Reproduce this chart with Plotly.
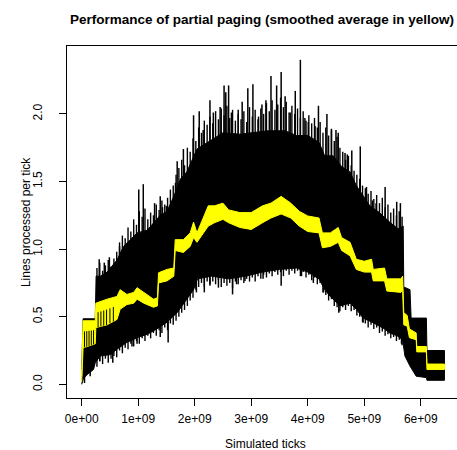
import numpy as np
import plotly.graph_objects as go

# Simulated ticks are in units of 1e9
x_tick_vals = [0, 1, 2, 3, 4, 5, 6]
x_tick_text = ["0e+00", "1e+09", "2e+09", "3e+09", "4e+09", "5e+09", "6e+09"]
y_tick_vals = [0.0, 0.5, 1.0, 1.5, 2.0]
y_tick_text = ["0.0", "0.5", "1.0", "1.5", "2.0"]

# Upper edge of the dense raw-throughput band
raw_upper_t = [0.00, 0.015, 0.025, 0.24, 0.255, 0.33, 0.45, 0.625, 0.74, 0.86,
               0.98, 1.16, 1.27, 1.39, 1.51, 1.63, 1.75, 1.86, 2.04, 2.3,
               2.5, 2.8, 3.0, 3.3, 3.6, 3.8, 4.0, 4.2, 4.3, 4.45,
               4.6, 4.75, 4.86, 4.98, 5.1, 5.27, 5.45, 5.6, 5.69, 5.70,
               5.81, 5.83, 6.10, 6.11, 6.42]
raw_upper_v = [0.10, 0.30, 0.485, 0.485, 0.80, 0.80, 0.83, 0.92, 1.02, 1.07,
               1.12, 1.14, 1.19, 1.25, 1.28, 1.39, 1.52, 1.57, 1.74, 1.81,
               1.86, 1.85, 1.86, 1.875, 1.875, 1.84, 1.84, 1.79, 1.69, 1.69,
               1.61, 1.57, 1.47, 1.39, 1.32, 1.27, 1.20, 1.15, 1.17, 0.72,
               0.70, 0.49, 0.49, 0.25, 0.25]

# Lower edge of the raw band
raw_lower_t = [0.00, 0.03, 0.09, 0.21, 0.24, 0.33, 0.51, 0.625, 0.80, 0.98,
               1.16, 1.33, 1.51, 1.69, 1.86, 1.98, 2.05, 2.3, 2.6, 2.9,
               3.2, 3.5, 3.8, 4.0, 4.2, 4.3, 4.4, 4.57, 4.75, 4.86,
               4.98, 5.16, 5.36, 5.45, 5.58, 5.68, 5.72, 5.81, 5.92, 6.10,
               6.11, 6.42]
raw_lower_v = [0.00, 0.04, 0.07, 0.11, 0.16, 0.21, 0.22, 0.26, 0.31, 0.345,
               0.37, 0.41, 0.46, 0.53, 0.63, 0.70, 0.78, 0.80, 0.78, 0.80,
               0.83, 0.85, 0.86, 0.83, 0.78, 0.70, 0.65, 0.58, 0.60, 0.555,
               0.49, 0.455, 0.41, 0.38, 0.36, 0.33, 0.21, 0.135, 0.06, 0.05,
               0.03, 0.03]

# Tall isolated peaks above the band
peak_t = [0.31, 0.40, 0.49, 0.67, 1.01, 1.09, 1.29, 1.39, 1.43, 1.50,
          1.66, 1.69, 1.80, 1.98, 2.03, 2.08, 2.15, 2.27, 2.33, 2.45,
          2.52, 2.55, 2.60, 2.65, 2.77, 2.84, 2.94, 3.03, 3.13, 3.19,
          3.26, 3.35, 3.45, 3.53, 3.60, 3.69, 3.78, 3.87, 3.95, 4.01,
          4.13, 4.19, 4.34, 4.42, 4.50, 4.54, 4.66, 4.70, 4.78, 4.93,
          5.04, 5.145, 5.21, 5.37, 5.575, 5.64]
peak_v = [0.925, 0.90, 0.94, 1.02, 1.44, 1.48, 1.34, 1.39, 1.31, 1.32,
          1.49, 1.65, 1.74, 1.99, 1.71, 2.02, 1.88, 2.10, 2.01, 2.05,
          2.21, 2.16, 2.21, 2.01, 2.03, 2.09, 2.19, 2.22, 1.98, 2.07,
          2.10, 2.28, 2.21, 2.31, 2.13, 2.01, 2.17, 2.40, 1.97, 1.94,
          1.91, 2.06, 2.00, 1.89, 1.88, 1.86, 1.71, 1.70, 1.73, 1.76,
          1.46, 1.36, 1.34, 1.46, 1.35, 1.34]

# Short ragged peaks and dips along both edges of the band
edge_t = [0.27, 0.32, 0.37, 0.42, 0.47, 0.52, 0.57, 0.62, 0.67, 0.72,
          0.77, 0.82, 0.87, 0.92, 0.97, 1.02, 1.07, 1.12, 1.17, 1.22,
          1.27, 1.32, 1.37, 1.42, 1.47, 1.52, 1.57, 1.62, 1.67, 1.72,
          1.77, 1.82, 1.87, 1.92, 1.97, 2.02, 2.07, 2.12, 2.17, 2.22,
          2.27, 2.32, 2.37, 2.42, 2.47, 2.52, 2.57, 2.62, 2.67, 2.72,
          2.77, 2.82, 2.87, 2.92, 2.97, 3.02, 3.07, 3.12, 3.17, 3.22,
          3.27, 3.32, 3.37, 3.42, 3.47, 3.52, 3.57, 3.62, 3.67, 3.72,
          3.77, 3.82, 3.87, 3.92, 3.97, 4.02, 4.07, 4.12, 4.17, 4.22,
          4.27, 4.32, 4.37, 4.42, 4.47, 4.52, 4.57, 4.62, 4.67, 4.72,
          4.77, 4.82, 4.87, 4.92, 4.97, 5.02, 5.07, 5.12, 5.17, 5.22,
          5.27, 5.32, 5.37, 5.42, 5.47, 5.52, 5.57, 5.62, 5.67]
edge_hi = [0.86, 0.90, 0.84, 0.88, 0.92, 0.87, 0.93, 0.98, 1.05, 1.10,
           1.08, 1.16, 1.13, 1.22, 1.18, 1.28, 1.24, 1.30, 1.22, 1.27,
           1.25, 1.33, 1.29, 1.36, 1.33, 1.38, 1.44, 1.47, 1.55, 1.60,
           1.66, 1.62, 1.75, 1.72, 1.82, 1.80, 1.90, 1.86, 1.95, 1.92,
           1.98, 1.93, 2.02, 1.96, 2.04, 1.99, 2.06, 1.97, 2.03, 1.95,
           2.00, 1.96, 2.02, 1.94, 2.05, 1.98, 2.03, 1.96, 2.04, 2.00,
           2.08, 2.02, 2.10, 2.03, 2.07, 2.12, 2.05, 2.09, 2.01, 2.06,
           2.00, 2.04, 1.97, 2.02, 1.95, 1.99, 1.93, 1.97, 1.90, 1.94,
           1.86, 1.90, 1.84, 1.88, 1.80, 1.83, 1.75, 1.72, 1.66, 1.69,
           1.62, 1.58, 1.55, 1.52, 1.47, 1.45, 1.41, 1.43, 1.37, 1.40,
           1.34, 1.38, 1.31, 1.33, 1.27, 1.30, 1.25, 1.28, 1.24]
edge_lo = [0.13, 0.17, 0.15, 0.19, 0.16, 0.19, 0.21, 0.20, 0.25, 0.23,
           0.27, 0.26, 0.30, 0.28, 0.32, 0.30, 0.34, 0.32, 0.36, 0.34,
           0.38, 0.36, 0.40, 0.38, 0.42, 0.40, 0.45, 0.44, 0.47, 0.50,
           0.53, 0.55, 0.58, 0.62, 0.64, 0.70, 0.72, 0.75, 0.72, 0.76,
           0.73, 0.76, 0.74, 0.77, 0.72, 0.75, 0.73, 0.75, 0.71, 0.76,
           0.74, 0.77, 0.75, 0.78, 0.76, 0.79, 0.76, 0.80, 0.78, 0.81,
           0.79, 0.82, 0.80, 0.83, 0.81, 0.83, 0.80, 0.84, 0.81, 0.84,
           0.82, 0.84, 0.80, 0.83, 0.79, 0.81, 0.77, 0.79, 0.74, 0.75,
           0.68, 0.66, 0.62, 0.63, 0.58, 0.57, 0.54, 0.57, 0.55, 0.58,
           0.54, 0.55, 0.51, 0.50, 0.46, 0.45, 0.42, 0.44, 0.41, 0.42,
           0.38, 0.39, 0.36, 0.37, 0.34, 0.35, 0.32, 0.33, 0.29]

# Tall isolated dips below the band
dip_t = [0.05, 0.15, 0.32, 0.55, 0.89, 0.98, 1.39, 1.53, 2.03, 2.17,
         2.27, 2.42, 2.67, 2.74, 2.89, 3.21, 3.53, 3.89, 4.10, 4.28,
         4.55, 4.98, 5.66]
dip_v = [0.01, 0.06, 0.17, 0.16, 0.28, 0.30, 0.35, 0.31, 0.68, 0.68,
         0.74, 0.715, 0.665, 0.74, 0.765, 0.78, 0.73, 0.80, 0.75, 0.68,
         0.53, 0.455, 0.30]

# Smoothed average (yellow), drawn as a thick band
smooth_t = [0.00, 0.01, 0.025, 0.24, 0.25, 0.45, 0.625, 0.68, 0.80, 0.92,
            0.98, 1.10, 1.27, 1.34, 1.36, 1.51, 1.63, 1.655, 1.80, 1.92,
            1.98, 2.04, 2.15, 2.24, 2.35, 2.5, 2.6, 2.8, 3.0, 3.2,
            3.35, 3.53, 3.7, 3.85, 4.0, 4.2, 4.26, 4.4, 4.54, 4.6,
            4.75, 4.86, 5.0, 5.13, 5.16, 5.36, 5.40, 5.65, 5.68, 5.70,
            5.76, 5.80, 5.92, 5.93, 6.10, 6.11, 6.42]
smooth_hi = [0.06, 0.35, 0.47, 0.47, 0.60, 0.63, 0.65, 0.70, 0.665, 0.68,
             0.715, 0.68, 0.63, 0.64, 0.825, 0.85, 0.86, 1.07, 1.07, 1.12,
             1.20, 1.12, 1.23, 1.32, 1.32, 1.34, 1.29, 1.27, 1.27, 1.32,
             1.34, 1.39, 1.34, 1.28, 1.245, 1.23, 1.12, 1.12, 1.16, 1.085,
             1.05, 0.925, 0.91, 0.925, 0.85, 0.86, 0.78, 0.78, 0.80, 0.53,
             0.51, 0.41, 0.38, 0.28, 0.28, 0.15, 0.15]
smooth_lo = [0.02, 0.04, 0.27, 0.30, 0.42, 0.44, 0.48, 0.555, 0.59, 0.60,
             0.63, 0.60, 0.57, 0.58, 0.75, 0.765, 0.80, 0.99, 0.975, 1.02,
             1.085, 1.05, 1.12, 1.17, 1.195, 1.22, 1.195, 1.16, 1.145, 1.195,
             1.23, 1.26, 1.23, 1.17, 1.13, 1.12, 1.01, 1.02, 1.05, 0.99,
             0.95, 0.85, 0.83, 0.83, 0.765, 0.765, 0.69, 0.68, 0.70, 0.44,
             0.43, 0.345, 0.33, 0.24, 0.24, 0.11, 0.11]

# Dark streaks where the early smoothed curve swings
streak_t = [0.05, 0.09, 0.13, 0.17, 0.21, 0.29, 0.34, 0.39, 0.44, 0.50, 0.56]

FONT = "Liberation Sans, Arial, Helvetica, sans-serif"

fig = go.Figure()

# raw band as a closed polygon
fig.add_trace(go.Scatter(
    x=raw_upper_t + raw_lower_t[::-1],
    y=raw_upper_v + raw_lower_v[::-1],
    fill="toself", fillcolor="black", mode="lines",
    line=dict(color="black", width=1), hoverinfo="skip", showlegend=False))


def needles(ts, vs, edge_t, edge_v, inward):
    xs, ys = [], []
    for t, v in zip(ts, vs):
        base = float(np.interp(t, edge_t, edge_v))
        xs += [t, t, None]
        ys += [base + inward, v, None]
    return xs, ys


x1, y1 = needles(peak_t, peak_v, raw_upper_t, raw_upper_v, -0.05)
x2, y2 = needles(edge_t, edge_hi, raw_upper_t, raw_upper_v, -0.05)
x3, y3 = needles(dip_t, dip_v, raw_lower_t, raw_lower_v, 0.05)
x4, y4 = needles(edge_t, edge_lo, raw_lower_t, raw_lower_v, 0.05)
fig.add_trace(go.Scatter(x=x1 + x3, y=y1 + y3, mode="lines",
                         line=dict(color="black", width=1.5),
                         hoverinfo="skip", showlegend=False))
fig.add_trace(go.Scatter(x=x2 + x4, y=y2 + y4, mode="lines",
                         line=dict(color="black", width=1.4),
                         hoverinfo="skip", showlegend=False))

# smoothed average
fig.add_trace(go.Scatter(
    x=smooth_t + smooth_t[::-1],
    y=smooth_hi + smooth_lo[::-1],
    fill="toself", fillcolor="#ffff00", mode="lines",
    line=dict(color="#ffff00", width=1), hoverinfo="skip", showlegend=False))

sx, sy = [], []
for t in streak_t:
    lo = float(np.interp(t, smooth_t, smooth_lo))
    hi = float(np.interp(t, smooth_t, smooth_hi))
    sx += [t, t, None]
    sy += [lo, lo + 0.6 * (hi - lo), None]
fig.add_trace(go.Scatter(x=sx, y=sy, mode="lines",
                         line=dict(color="black", width=1),
                         hoverinfo="skip", showlegend=False))

axis_common = dict(showgrid=False, zeroline=False, showline=True,
                   linecolor="black", linewidth=1, ticks="outside",
                   ticklen=7, tickcolor="black", tickwidth=1,
                   tickfont=dict(family=FONT, size=12, color="black"))

fig.update_layout(
    width=457, height=450,
    margin=dict(l=67, r=0, t=46, b=52),
    paper_bgcolor="white", plot_bgcolor="white",
    xaxis=dict(range=[-0.26, 6.642], tickvals=x_tick_vals, ticktext=x_tick_text,
               mirror=True, ticklabelstandoff=3, **axis_common),
    yaxis=dict(range=[-0.101, 2.502], tickvals=y_tick_vals, ticktext=y_tick_text,
               tickangle=-90, mirror=False, ticklabelstandoff=12, **axis_common),
    annotations=[
        dict(text="<b>Performance of partial paging (smoothed average in yellow)</b>",
             xref="paper", yref="paper", x=0.5, y=1.0767, xanchor="center",
             yanchor="middle", showarrow=False,
             font=dict(family=FONT, size=13.5, color="black")),
        dict(text="Simulated ticks", xref="paper", yref="paper", x=0.508,
             y=-0.1307, xanchor="center", yanchor="middle", showarrow=False,
             font=dict(family=FONT, size=12, color="black")),
        dict(text="Lines processed per tick", xref="paper", yref="paper",
             x=-0.105, y=0.5, xanchor="center", yanchor="middle",
             textangle=-90, showarrow=False,
             font=dict(family=FONT, size=12, color="black")),
    ],
)

fig.write_html("out.html")
